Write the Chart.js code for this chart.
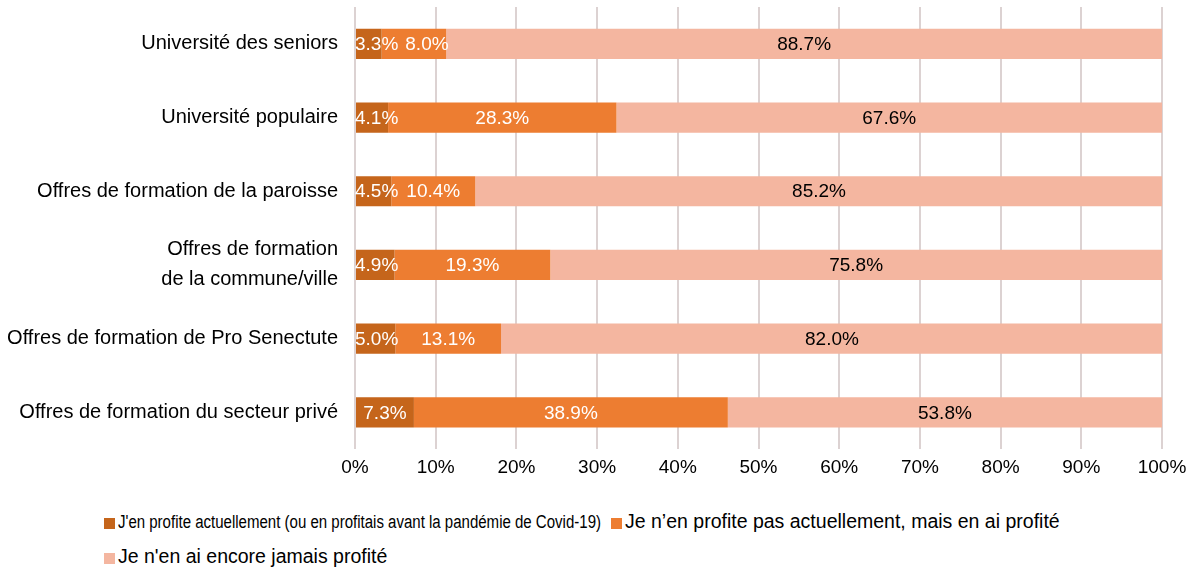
<!DOCTYPE html>
<html>
<head>
<meta charset="utf-8">
<script src="https://cdn.jsdelivr.net/npm/chart.js@4.4.0/dist/chart.umd.min.js"></script>
<style>
  body { margin: 0; background: #fff; font-family: "Liberation Sans", Arial, sans-serif; }
  #wrap { position: relative; width: 1201px; height: 569px; }
  #chart { position: absolute; left: 0; top: 0; }
  .leg { position: absolute; white-space: nowrap; color: #000; font-size: 19.5px; line-height: 22px; }
  .leg i { display: inline-block; width: 11px; height: 11px; margin-right: 3px; vertical-align: -1px; }
  .narrow { display: inline-block; transform-origin: left center; font-size: 18px; }
</style>
</head>
<body>
<div id="wrap">
  <canvas id="chart" width="1201" height="486"></canvas>
  <div class="leg" style="left:104px; top:510px;"><i id="sw0"></i><span class="narrow" id="lg0"></span></div>
  <div class="leg" style="left:611px; top:510px;"><i id="sw1"></i><span id="lg1"></span></div>
  <div class="leg" style="left:104px; top:545px;"><i id="sw2"></i><span id="lg2"></span></div>
</div>
<script>
const categories = [
  "Université des seniors",
  "Université populaire",
  "Offres de formation de la paroisse",
  ["Offres de formation", "de la commune/ville"],
  "Offres de formation de Pro Senectute",
  "Offres de formation du secteur privé",
];
const seriesNames = [
  "J'en profite actuellement (ou en profitais avant la pandémie de Covid-19)",
  "Je n’en profite pas actuellement, mais en ai profité",
  "Je n'en ai encore jamais profité",
];
const currentValues = [3.3, 4.1, 4.5, 4.9, 5.0, 7.3];
const pastValues = [8.0, 28.3, 10.4, 19.3, 13.1, 38.9];
const neverValues = [88.7, 67.6, 85.2, 75.8, 82.0, 53.8];
const seriesColors = ["#c5651b", "#ed7d31", "#f4b6a0"];
const labelColors = ["#ffffff", "#ffffff", "#000000"];

// legend in html, first entry is squeezed like in the original
seriesNames.forEach((name, i) => {
  document.querySelector("#sw" + i).style.background = seriesColors[i];
  document.querySelector("#lg" + i).textContent = name;
});
const narrow = document.querySelector("#lg0");
narrow.style.transform = "scaleX(" + (483 / narrow.getBoundingClientRect().width) + ")";

// value labels centred in each segment, nudged right when they collide
const valueLabels = {
  id: "valueLabels",
  afterDatasetsDraw(chart) {
    const ctx = chart.ctx;
    ctx.save();
    ctx.font = "19px 'Liberation Sans', Arial, sans-serif";
    ctx.textBaseline = "middle";
    ctx.textAlign = "left";
    const lastRight = {};
    chart.data.datasets.forEach((ds, di) => {
      const meta = chart.getDatasetMeta(di);
      meta.data.forEach((bar, i) => {
        const text = ds.data[i].toFixed(1) + "%";
        const w = ctx.measureText(text).width;
        let left = (bar.x + bar.base) / 2 - w / 2;
        left = Math.max(left, chart.chartArea.left);
        if (lastRight[i] !== undefined && left < lastRight[i] + 7) left = lastRight[i] + 7;
        lastRight[i] = left + w;
        ctx.fillStyle = labelColors[di];
        ctx.fillText(text, left, bar.y + 1);
      });
    });
    ctx.restore();
  },
};

const chart = new Chart(document.querySelector("#chart"), {
  type: "bar",
  data: {
    labels: categories,
    datasets: [currentValues, pastValues, neverValues].map((d, i) => ({
      label: seriesNames[i],
      data: d,
      backgroundColor: seriesColors[i],
      categoryPercentage: 1,
      barPercentage: 0.41,
    })),
  },
  options: {
    indexAxis: "y",
    responsive: false,
    animation: false,
    layout: { padding: { top: 7, right: 39, left: 0, bottom: 0 } },
    plugins: { legend: { display: false }, tooltip: { enabled: false } },
    scales: {
      x: {
        stacked: true,
        min: 0,
        max: 100,
        ticks: {
          stepSize: 10,
          callback: (v) => v + "%",
          color: "#000",
          padding: 7,
          font: { family: "'Liberation Sans', Arial, sans-serif", size: 19 },
        },
        grid: { color: "#dcd2d2", lineWidth: 2, drawTicks: false },
        border: { display: false },
      },
      y: {
        stacked: true,
        ticks: {
          color: "#000",
          padding: 17,
          font: { family: "'Liberation Sans', Arial, sans-serif", size: 20, lineHeight: 1.5 },
        },
        grid: { display: false, drawTicks: false },
        border: { display: false },
        afterFit(scale) {
          scale.width = 355;
          scale.paddingTop = 0;
          scale.paddingBottom = 0;
        },
      },
    },
  },
  plugins: [valueLabels],
});
</script>
</body>
</html>
